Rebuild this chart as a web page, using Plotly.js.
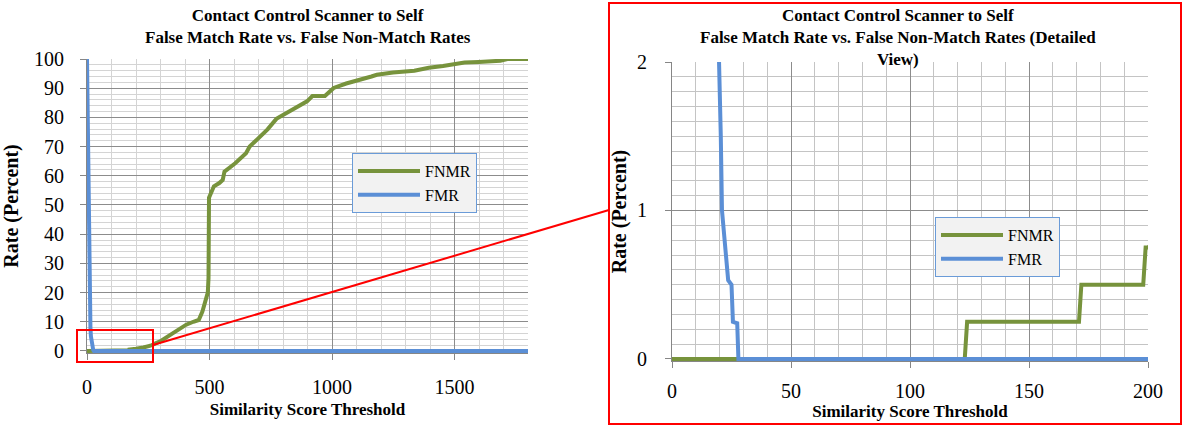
<!DOCTYPE html>
<html><head><meta charset="utf-8">
<script src="https://cdn.plot.ly/plotly-3.0.1.min.js"></script>
<style>html,body{margin:0;padding:0;background:#fff}#chart{width:1183px;height:426px}</style>
</head><body><div id="chart"></div>
<script>
// ---- data ----
const seriesNames = ['FNMR', 'FMR'];
const fnmrX = [0,123,124,171,172,198,199,200,230,259,280,303,340,376,405,434,456,471,485,493,496,498,518,540,554,561,605,649,664,700,737,773,800,825,860,898,920,971,990,1007,1058,1088,1117,1161,1183,1249,1336,1395,1453,1497,1541,1599,1687,1716,1800];
const fnmrY = [0,0,0.25,0.25,0.5,0.5,0.75,0.75,1.2,1.8,2.6,3.5,5.5,7.6,9.0,10,10.6,13.5,17,20,25,52.5,56.4,57.5,58.6,61.4,64.3,67.7,70,73,75.9,79.5,80.8,81.9,83.5,85.5,87.3,87.3,88.8,90.1,91.6,92.2,93,94,94.6,95.4,96,97,97.6,98.2,98.8,99,99.4,100,100];
const fmrX = [0,5,8,10,12,14,16,18,19,20,20.5,21,23.6,25.0,25.6,27.4,27.9,1800];
const fmrY = [100,60,35,20,12,8,5,3.2,2.6,2.0,1.5,1.0,0.53,0.5,0.25,0.24,0,0];
const titleLeft = 'Contact Control Scanner to Self<br>False Match Rate vs. False Non-Match Rates';
const titleRight = 'Contact Control Scanner to Self<br>False Match Rate vs. False Non-Match Rates (Detailed<br>View)';
const xTitle = 'Similarity Score Threshold';
const yTitle = 'Rate (Percent)';

// ---- styling ----
const W = 1183, H = 426;
const px = v => v / W;
const py = v => 1 - v / H;
const GREEN = '#77933c', BLUE = '#5b8fd6';
const SERIF = "'Liberation Serif', 'Times New Roman', serif";
const tickFont = {family: SERIF, size: 20, color: '#000'};
const titleFont = {family: SERIF, size: 17, color: '#000'};
const xTitleFont = {family: SERIF, size: 17, color: '#000'};
const yTitleFont = {family: SERIF, size: 20, color: '#000'};
const majorGrid = '#8c8c8c', minorGrid = '#d4d4d4', axisCol = '#868686';

function trace(x, y, name, color, xa, ya, lg) {
  return {x: x, y: y, name: name, type: 'scatter', mode: 'lines',
    line: {color: color, width: 4}, xaxis: xa, yaxis: ya, legend: lg, hoverinfo: 'skip'};
}
const data = [
  trace(fnmrX, fnmrY, seriesNames[0], GREEN, 'x', 'y', 'legend'),
  trace(fmrX, fmrY, seriesNames[1], BLUE, 'x', 'y', 'legend'),
  trace(fnmrX, fnmrY, seriesNames[0], GREEN, 'x2', 'y2', 'legend2'),
  trace(fmrX, fmrY, seriesNames[1], BLUE, 'x2', 'y2', 'legend2')
];

function axis(o) {
  return Object.assign({
    showline: true, linecolor: axisCol, linewidth: 1, ticks: 'outside', ticklen: 6,
    tickcolor: axisCol, showgrid: true, gridcolor: majorGrid, gridwidth: 1,
    zeroline: false, tickfont: tickFont, fixedrange: true, automargin: false
  }, o);
}
const legendBase = {bgcolor: '#f2f2f2', bordercolor: '#6a9bd8', borderwidth: 1,
  font: {family: SERIF, size: 16, color: '#000'}, xanchor: 'left', yanchor: 'top',
  itemwidth: 62, tracegroupgap: 0};

const layout = {
  width: W, height: H, margin: {l: 0, r: 0, t: 0, b: 0},
  paper_bgcolor: '#fff', plot_bgcolor: '#fff', showlegend: true,
  xaxis: axis({domain: [px(87), px(528)], range: [0, 1800], tick0: 0, dtick: 500, anchor: 'y',
    ticklabelstandoff: 10,
    minor: {dtick: 100, showgrid: true, gridcolor: minorGrid, gridwidth: 1},
    title: {text: '<b>' + xTitle + '</b>', font: xTitleFont, standoff: 6}}),
  yaxis: axis({domain: [py(353), py(59)], range: [-0.7, 100], tick0: 0, dtick: 10, anchor: 'x',
    ticklabelstandoff: 12,
    minor: {dtick: 2, showgrid: true, gridcolor: minorGrid, gridwidth: 1},
    title: {text: '<b>' + yTitle + '</b>', font: yTitleFont, standoff: 10}}),
  xaxis2: axis({domain: [px(672), px(1148)], range: [0, 200], tick0: 0, dtick: 50, anchor: 'y2',
    ticklabelstandoff: 6,
    minor: {dtick: 10, showgrid: true, gridcolor: '#c4c4c4', gridwidth: 1},
    title: {text: '<b>' + xTitle + '</b>', font: xTitleFont, standoff: 2}}),
  yaxis2: axis({domain: [py(361), py(62)], range: [-0.014, 2], tick0: 0, dtick: 1, anchor: 'x2',
    ticklabelstandoff: 14,
    minor: {dtick: 0.1, showgrid: true, gridcolor: '#c4c4c4', gridwidth: 1},
    title: {text: '<b>' + yTitle + '</b>', font: yTitleFont, standoff: 5}}),
  legend: Object.assign({x: px(352), y: py(153)}, legendBase),
  legend2: Object.assign({x: px(935), y: py(217)}, legendBase),
  annotations: [
    {text: '<b>' + titleLeft + '</b>', x: px(308), y: py(4), xref: 'paper', yref: 'paper',
      xanchor: 'center', yanchor: 'top', showarrow: false, font: titleFont},
    {text: '<b>' + titleRight + '</b>', x: px(898), y: py(4), xref: 'paper', yref: 'paper',
      xanchor: 'center', yanchor: 'top', showarrow: false, font: titleFont}],
  shapes: [
    {type: 'rect', xref: 'paper', yref: 'paper', x0: px(77), x1: px(153), y0: py(362), y1: py(330),
      line: {color: '#ff0000', width: 2}},
    {type: 'line', xref: 'paper', yref: 'paper', x0: px(153), y0: py(345), x1: px(609), y1: py(210),
      line: {color: '#ff0000', width: 2}},
    {type: 'rect', xref: 'paper', yref: 'paper', x0: px(609), x1: px(1181), y0: py(424), y1: py(3),
      line: {color: '#ff0000', width: 2}}
  ]
};
Plotly.newPlot('chart', data, layout, {displayModeBar: false, staticPlot: true});
</script>
</body></html>
